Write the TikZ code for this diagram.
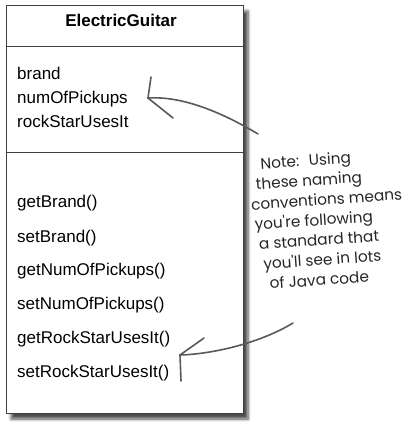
\documentclass[tikz,border=0pt]{standalone}
\usepackage{fontspec}
\setmainfont{Liberation Sans}
\newfontfamily\handfont{Poppins}
\usetikzlibrary{positioning, shadows, shadows.blur, calc}

\begin{document}
\begin{tikzpicture}[
    x=1pt, y=-1pt,
    font=\fontsize{17}{20}\selectfont,
    % --- styles ---
    % class box
    classbox/.style={draw=black!75, line width=0.9pt, fill=white, minimum width=237pt, minimum height=408pt, inner sep=0pt,
        blur shadow={shadow xshift=5pt, shadow yshift=-6pt, shadow blur radius=3pt, shadow blur steps=6, shadow opacity=70}},
    % class members
    member/.style={anchor=base west, inner sep=0pt},
    divider/.style={draw=black!75, line width=0.7pt},
    % hand-drawn arrows
    pen/.style={draw=black!65, line width=1.6pt, line cap=round, line join=round},
    note/.style={font=\handfont\fontsize{15.3}{20}\selectfont, align=left, rotate=4, text=black!85, inner sep=0pt}
]
\useasboundingbox (0,0) rectangle (408,430);

% --- 1. Class box ---
\node[classbox] (Guitar) at (124.5,209) {};
\node[anchor=base, font=\fontsize{17}{20}\selectfont\bfseries] (Title) at (121,27) {ElectricGuitar};

\draw[divider] (Guitar.west |- 0,46) -- (Guitar.east |- 0,46);
\draw[divider] (Guitar.west |- 0,152) -- (Guitar.east |- 0,152);

% attributes
\node[member] (brand) at (17,80) {brand};
\node[member] (pickups) at (17,104) {numOfPickups};
\node[member] (rockstar) at (17,128) {rockStarUsesIt};

% methods
\node[member] (getBrand) at (17,207) {getBrand()};
\node[member] (setBrand) at (17,242) {setBrand()};
\node[member] (getPickups) at (17,275) {getNumOfPickups()};
\node[member] (setPickups) at (17,309) {setNumOfPickups()};
\node[member] (getRock) at (17,343) {getRockStarUsesIt()};
\node[member] (setRock) at (17,377) {setRockStarUsesIt()};

% --- 2. Note (ragged hand-written lines) ---
\node[note] (Note) at (328,219) {\hspace*{12pt}Note: \ Using\\\hspace*{6pt}these naming\\conventions means\\\hspace*{2pt}you're following\\\hspace*{5pt}a standard that\\\hspace*{8pt}you'll see in lots\\\hspace*{13pt}of Java code};

% --- 3. Arrows ---
\coordinate (TopStart) at (258,134);
\coordinate (TopTip) at (148,98);
\coordinate (BotStart) at (293,323);
\coordinate (BotTip) at (180,355);

\draw[pen] (TopStart) .. controls (218,110) and (180,96) .. (TopTip);
\draw[pen] (TopTip) -- (151,77);
\draw[pen] (TopTip) -- (173,118);

\draw[pen] (BotStart) .. controls (262,342) and (215,354) .. (BotTip);
\draw[pen] (BotTip) -- (204,338);
\draw[pen] (BotTip) -- (181,381);

\end{tikzpicture}
\end{document}
